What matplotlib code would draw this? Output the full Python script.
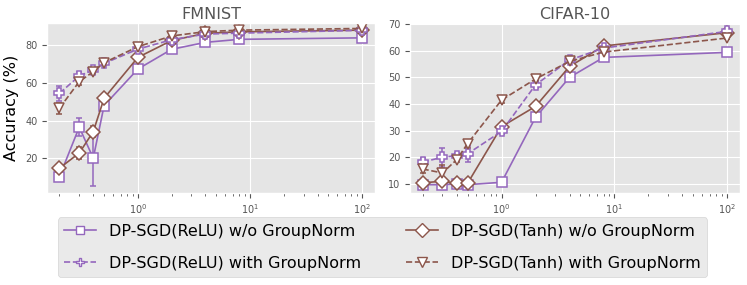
import numpy as np
import matplotlib
matplotlib.use("Agg")
import matplotlib.pyplot as plt
from matplotlib.lines import Line2D

plt.style.use("ggplot")

eps = [0.2, 0.3, 0.4, 0.5, 1, 2, 4, 8, 100]

# FMNIST
fm_relu = [10.2, 36.5, 20.0, 48.0, 67.4, 77.9, 81.6, 83.2, 84.0]
fm_relu_err = [1.0, 4.8, 15.0, 1.5, 1.2, 0.5, 0.5, 0.3, 0.3]
fm_tanh = [14.7, 22.7, 34.1, 51.9, 73.6, 82.6, 86.4, 87.2, 88.1]
fm_tanh_err = [1.0, 3.0, 3.0, 1.5, 0.8, 0.5, 0.3, 0.3, 0.3]
fm_relu_gn = [54.5, 63.7, 66.9, 70.4, 78.0, 83.0, 86.0, 86.5, 88.0]
fm_relu_gn_err = [4.0, 2.0, 1.0, 1.0, 0.5, 0.5, 0.3, 0.3, 0.3]
fm_tanh_gn = [46.6, 60.7, 66.0, 70.8, 79.3, 85.0, 87.3, 88.1, 89.0]
fm_tanh_gn_err = [3.0, 2.0, 1.0, 1.0, 0.5, 0.5, 0.3, 0.3, 0.3]

# CIFAR-10
cf_relu = [9.7, 9.7, 10.0, 9.7, 10.6, 35.0, 50.0, 57.5, 59.4]
cf_relu_err = [0.5, 0.5, 0.5, 0.5, 1.0, 1.5, 1.0, 1.0, 0.8]
cf_tanh = [10.4, 11.0, 10.2, 10.2, 31.5, 39.1, 54.1, 61.8, 66.8]
cf_tanh_err = [1.0, 1.0, 0.5, 0.5, 1.0, 0.5, 1.0, 0.5, 0.5]
cf_relu_gn = [18.2, 20.0, 20.6, 21.3, 29.7, 47.2, 56.5, 61.0, 67.3]
cf_relu_gn_err = [1.5, 3.5, 1.0, 3.0, 1.0, 1.0, 1.0, 0.5, 0.5]
cf_tanh_gn = [15.6, 14.1, 19.1, 25.1, 41.5, 49.4, 56.0, 59.5, 64.8]
cf_tanh_gn_err = [1.5, 3.0, 1.0, 1.5, 1.0, 0.8, 0.8, 0.5, 0.5]

labels = ["DP-SGD(ReLU) w/o GroupNorm", "DP-SGD(Tanh) w/o GroupNorm",
          "DP-SGD(ReLU) with GroupNorm", "DP-SGD(Tanh) with GroupNorm"]
purple = "#9467bd"
brown = "#8c564b"
styles = [
    dict(color=purple, ls="-", marker="s", ms=7),
    dict(color=brown, ls="-", marker="D", ms=7.5),
    dict(color=purple, ls="--", marker="P", ms=7),
    dict(color=brown, ls="--", marker="v", ms=7.5),
]

fig = plt.figure(figsize=(7.47, 2.85), dpi=100)
ax1 = fig.add_axes([0.063, 0.323, 0.439, 0.597])
ax2 = fig.add_axes([0.549, 0.323, 0.442, 0.597])

panels = [
    (ax1, "FMNIST", [(fm_relu, fm_relu_err), (fm_tanh, fm_tanh_err),
                     (fm_relu_gn, fm_relu_gn_err), (fm_tanh_gn, fm_tanh_gn_err)]),
    (ax2, "CIFAR-10", [(cf_relu, cf_relu_err), (cf_tanh, cf_tanh_err),
                       (cf_relu_gn, cf_relu_gn_err), (cf_tanh_gn, cf_tanh_gn_err)]),
]

for ax, title, series in panels:
    for (vals, err), st, lab in zip(series, styles, labels):
        ax.errorbar(eps, vals, yerr=err, color=st["color"], ls=st["ls"],
                    marker=st["marker"], ms=st["ms"], mfc="white",
                    mec=st["color"], mew=1.1, lw=1.2, capsize=2.5,
                    elinewidth=1.1, label=lab)
    ax.set_xscale("log")
    ax.set_title(title, fontsize=11.5, color="#555555", pad=3)
    ax.tick_params(axis="both", labelsize=7, colors="#555555")

ax1.set_ylim(1.5, 92)
ax1.set_yticks([20, 40, 60, 80])
ax2.set_ylim(6.6, 70.5)
ax1.set_xlim(0.155, 130)
ax2.set_xlim(0.155, 130)
ax1.set_ylabel("Accuracy (%)", fontsize=11.5, color="black")

handles = [Line2D([], [], color=st["color"], ls=st["ls"], marker=st["marker"],
                  ms=st["ms"] * 0.9, mfc="white", mec=st["color"], lw=1.2)
           for st in styles]
order = [0, 2, 1, 3]
fig.legend([handles[i] for i in order], [labels[i] for i in order],
           loc="lower center", bbox_to_anchor=(0.512, 0.0), ncol=2,
           fontsize=11.5, frameon=True, columnspacing=2.8, labelspacing=1.05)

fig.savefig("out.png", dpi=100)
